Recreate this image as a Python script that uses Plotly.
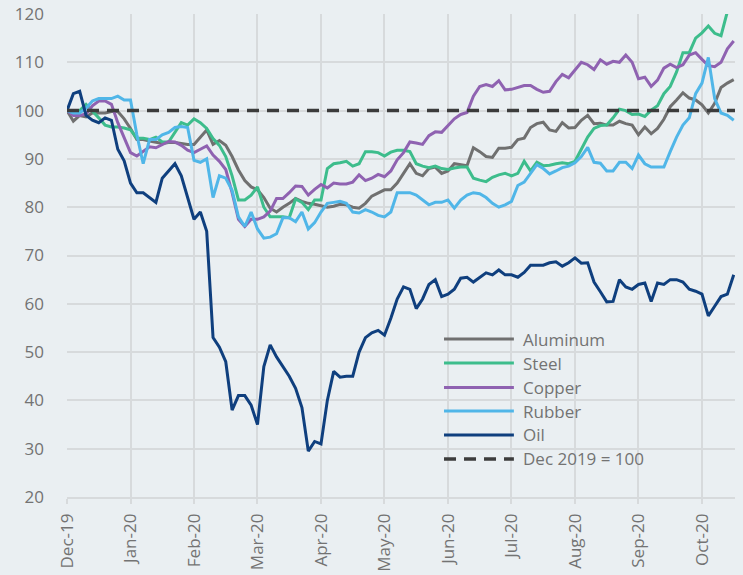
import plotly.graph_objects as go

# x positions in months since Dec-19 (0 = Dec-19, 1 = Jan-20, ...)
t = [round(i * 0.1, 1) for i in range(106)]

tick_labels = ["Dec-19", "Jan-20", "Feb-20", "Mar-20", "Apr-20", "May-20",
               "Jun-20", "Jul-20", "Aug-20", "Sep-20", "Oct-20"]
tick_pos = [0, 1, 2, 3, 4, 5, 6, 7, 8, 9, 10]

aluminum = [100, 97.8, 99, 98.7, 99.5, 99.5, 99.5, 99.8, 99.8, 98.3,
            96.3, 94, 94, 93.7, 93.5, 93.2, 93.4, 93.4, 93.2, 93,
            93, 94.5, 96, 93, 93.8, 92.8, 90.5, 87.7, 85.5, 84.2,
            83.6, 82, 79.8, 79, 80, 80.8, 81.8, 81.2, 80.8, 80.6,
            80.3, 80, 80.2, 80.6, 80.5, 80, 79.8, 80.8, 82.3, 83,
            83.6, 83.6, 85, 87, 89, 87, 86.5, 88, 88.3, 87,
            87.5, 89, 88.8, 88.6, 92.3, 91.5, 90.5, 90.3, 92.2, 92.2,
            92.4, 94, 94.3, 96.5, 97.3, 97.6, 96, 95.7, 97.5, 96.4,
            96.5, 98, 99, 97.3, 97.4, 97, 97, 97.8, 97.3, 97,
            95, 96.6, 95.2, 96.3, 98.2, 100.8, 102.2, 103.7, 102.6, 102.2,
            101.2, 99.5, 101.5, 104.8, 105.7, 106.4]

steel = [100, 100, 100, 101.3, 100, 98.5, 97, 96.6, 96.6, 96.4,
         96, 94.3, 94.3, 94, 94.5, 93.5, 93.5, 95.5, 97.5, 97,
         98.3, 97.5, 96.3, 94.2, 92.8, 90.5, 86.5, 81.5, 81.5, 82.5,
         84.2, 80, 78, 78, 78, 77.8, 81.7, 81, 79.5, 81.5,
         81.5, 88, 89, 89.2, 89.5, 88.5, 89, 91.5, 91.5, 91.3,
         90.6, 91.4, 91.8, 91.8, 91.5, 89, 88.5, 88.2, 88.5, 88,
         87.8, 88.1, 88.3, 88.3, 86, 85.6, 85.3, 86.2, 86.7, 87,
         86.5, 87, 89.5, 87.5, 89.3, 88.6, 88.7, 89, 89.2, 89,
         89.5, 92, 94.5, 96.3, 96.9, 97, 98.5, 100.3, 100, 99.2,
         99.3, 98.8, 100.1, 101, 103.5, 105, 108, 112, 112, 115,
         116.1, 117.5, 116, 115.5, 120.5, 124]

copper = [100, 99, 99, 99.3, 101, 102, 102, 101.3, 97.5, 94.5,
          91.3, 90.6, 91.5, 92.5, 92.3, 92.9, 93.6, 93.5, 92.8, 91.8,
          91.3, 92, 92.7, 90.8, 89.5, 87.8, 83, 77.5, 76, 77.5,
          77.5, 78, 79.2, 81.8, 81.8, 83, 84.4, 84.3, 82.5, 83.7,
          84.7, 84, 85, 84.8, 84.8, 85.2, 86.7, 85.5, 86, 86.8,
          86.3, 87.5, 89.8, 91.3, 93.5, 93.3, 93, 94.8, 95.6, 95.5,
          96.8, 98.3, 99.2, 99.6, 103, 105, 105.4, 105, 106.2, 104.3,
          104.4, 104.8, 105.2, 105.2, 104.4, 103.8, 104, 106, 107.5, 106.8,
          108.5, 110, 109.5, 108.5, 110.5, 109.6, 110.2, 110, 111.5, 110,
          106.6, 106.9, 105, 106.3, 108.8, 109.6, 108.9, 109.5, 111.5, 112,
          110.6, 109.3, 109.1, 110, 112.8, 114.4]

rubber = [100, 99.5, 99.5, 100.5, 102, 102.5, 102.5, 102.5, 103, 102.2,
          102.2, 95, 89, 94, 94, 95, 95.5, 96.5, 96.7, 96.5,
          89.7, 89.3, 90, 82, 86.5, 86, 83.5, 78, 76, 79,
          75.5, 73.6, 73.8, 74.5, 77.8, 77.8, 77, 79, 75.5, 76.8,
          79, 80.8, 81, 81.2, 80.8, 79, 78.8, 79.5, 79, 78.3,
          78, 79, 83, 83, 83, 82.5, 81.5, 80.5, 81, 81,
          81.5, 79.8, 81.5, 82.5, 83, 82.8, 82, 80.8, 80, 80.5,
          81.2, 84.5, 85.2, 87, 88.8, 88, 86.9, 87.5, 88.2, 88.5,
          89.2, 90.5, 92.4, 89.3, 89.1, 87.5, 87.5, 89.3, 89.3, 88,
          90.8, 89, 88.3, 88.3, 88.3, 91.5, 94.5, 97, 98.5, 103.5,
          105.7, 111, 102.5, 99.5, 99, 98]

oil = [100, 103.5, 104, 99, 98, 97.5, 98.5, 98, 92, 89.6,
       85, 83, 83, 82, 81, 86, 87.5, 89, 86.5, 82,
       77.5, 79, 75, 53, 51, 48, 38, 41, 41, 39,
       35, 47, 51.5, 49, 47, 45, 42.5, 38.5, 29.5, 31.5,
       31, 40, 46, 44.8, 45, 45, 50, 53, 54, 54.5,
       53.5, 57, 61, 63.5, 63, 59, 61, 64, 65, 61.5,
       62, 63, 65.3, 65.5, 64.5, 65.5, 66.4, 66, 67, 66,
       66, 65.5, 66.5, 68, 68, 68, 68.5, 68.7, 67.8, 68.5,
       69.5, 68.4, 68.5, 64.5, 62.5, 60.4, 60.5, 65, 63.5, 63,
       64, 64.3, 60.5, 64.3, 64, 65, 65, 64.5, 63, 62.6,
       62, 57.5, 59.5, 61.5, 62, 66]

baseline_x = [0, 10.52]
baseline_y = [100, 100]

series_names = ["Aluminum", "Steel", "Copper", "Rubber", "Oil"]
series_vals = [aluminum, steel, copper, rubber, oil]
colors = ["#707070", "#3dbd8c", "#8f62b1", "#50b6e8", "#0f3f7e"]
dash_color = "#3c3c3c"
bg = "#eaeff2"
grid = "#d7dadc"
txt = "#737373"
FONT = "Open Sans"

fig = go.Figure()
for name, vals, c in zip(series_names, series_vals, colors):
    fig.add_trace(go.Scatter(x=t, y=vals, mode="lines", name=name,
                             line=dict(color=c, width=3), showlegend=False))
fig.add_trace(go.Scatter(x=baseline_x, y=baseline_y, mode="lines",
                         name="Dec 2019 = 100", showlegend=False,
                         line=dict(color=dash_color, width=3.5, dash="12px,8px")))

# manual legend (long line samples as in the reference)
leg_x0, leg_x1, leg_tx = 0.5644, 0.669, 0.6796
leg_y = [0.327, 0.2774, 0.2267, 0.178, 0.1284, 0.0787]
leg_names = series_names + ["Dec 2019 = 100"]
leg_colors = colors + [dash_color]
shapes = []
annotations = []
for i, (nm, c) in enumerate(zip(leg_names, leg_colors)):
    shapes.append(dict(type="line", xref="paper", yref="paper",
                       x0=leg_x0, x1=leg_x1, y0=leg_y[i], y1=leg_y[i],
                       line=dict(color=c, width=3.5 if i == 5 else 3,
                                 dash="12px,8px" if i == 5 else "solid")))
    annotations.append(dict(xref="paper", yref="paper", x=leg_tx, y=leg_y[i],
                            text=nm, showarrow=False, xanchor="left",
                            yanchor="middle",
                            font=dict(family=FONT, size=17, color=txt)))

fig.update_layout(
    width=743, height=575, autosize=False,
    margin=dict(l=67, r=8, t=14, b=78, pad=0),
    paper_bgcolor=bg, plot_bgcolor=bg,
    font=dict(family=FONT, size=17, color=txt),
    shapes=shapes, annotations=annotations,
    showlegend=False,
)
fig.update_xaxes(range=[0, 10.52], tickmode="array", tickvals=tick_pos,
                 ticktext=tick_labels, tickangle=-90, automargin=False,
                 showgrid=True, gridcolor=grid, gridwidth=1.5,
                 showline=True, linecolor=grid, linewidth=1.5,
                 ticks="outside", ticklen=5, tickcolor=grid, tickwidth=1.5,
                 zeroline=False, ticklabelstandoff=3,
                 tickfont=dict(family=FONT, size=17, color=txt))
fig.update_yaxes(range=[20, 120], dtick=10, tick0=20, automargin=False,
                 showgrid=True, gridcolor=grid, gridwidth=1.5,
                 zeroline=False, showline=False, ticks="",
                 ticklabelstandoff=22,
                 tickfont=dict(family=FONT, size=17, color=txt))

fig.write_html("out.html",
               config={"displayModeBar": False},
               post_script="document.body.style.margin='0';"
                           "document.body.style.background='" + bg + "';")
